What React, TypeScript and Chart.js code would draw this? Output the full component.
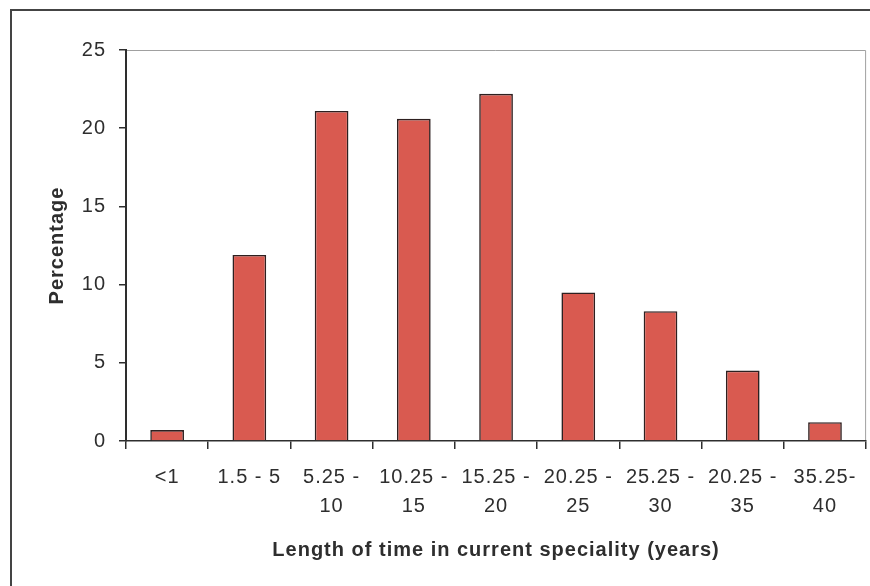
import React, { useEffect, useRef } from "react";
import { Chart, registerables } from "chart.js";

Chart.register(...registerables);

const categories: string[][] = [
  ["<1"],
  ["1.5 - 5"],
  ["5.25 -", "10"],
  ["10.25 -", "15"],
  ["15.25 -", "20"],
  ["20.25 -", "25"],
  ["25.25 -", "30"],
  ["20.25 -", "35"],
  ["35.25-", "40"],
];
const percentages: number[] = [0.7, 11.9, 21.1, 20.6, 22.2, 9.5, 8.3, 4.5, 1.2];
const yMin = 0;
const yMax = 25;
const yStep = 5;
const xTitle = "Length of time in current speciality (years)";
const yTitle = "Percentage";

const FONT = "'Liberation Sans', Arial, Helvetica, sans-serif";
const TEXT = "#2e2e2e";
const SPACING = "1px";

const framePlugin = {
  id: "frame",
  beforeLayout(chart: any) {
    chart.ctx.letterSpacing = SPACING;
  },
  beforeDraw(chart: any) {
    const ctx = chart.ctx;
    ctx.letterSpacing = SPACING;
    ctx.save();
    ctx.fillStyle = "#ffffff";
    ctx.fillRect(0, 0, chart.width, chart.height);
    ctx.strokeStyle = "#444444";
    ctx.lineWidth = 2;
    ctx.beginPath();
    ctx.moveTo(11, chart.height);
    ctx.lineTo(11, 10);
    ctx.lineTo(chart.width, 10);
    ctx.stroke();
    const { left, right, top, bottom } = chart.chartArea;
    ctx.strokeStyle = "#a0a0a0";
    ctx.lineWidth = 1;
    ctx.beginPath();
    ctx.moveTo(left, top + 0.5);
    ctx.lineTo(right - 0.5, top + 0.5);
    ctx.lineTo(right - 0.5, bottom);
    ctx.stroke();
    ctx.restore();
  },
};

export default function App() {
  const ref = useRef<HTMLCanvasElement | null>(null);

  useEffect(() => {
    if (!ref.current) return;
    const chart = new Chart(ref.current, {
      type: "bar",
      data: {
        labels: categories,
        datasets: [
          {
            data: percentages,
            backgroundColor: "#D95A50",
            borderColor: "#2e2020",
            borderWidth: 1.6,
            barPercentage: 0.41,
            categoryPercentage: 1.0,
          },
        ],
      },
      options: {
        animation: false,
        responsive: false,
        devicePixelRatio: 1,
        layout: { padding: { top: 50, right: 3, left: 0, bottom: 0 } },
        plugins: {
          legend: { display: false },
          tooltip: { enabled: false },
        },
        scales: {
          x: {
            afterFit(scale: any) {
              scale.height = 145;
            },
            grid: {
              offset: true,
              drawOnChartArea: false,
              drawTicks: true,
              tickLength: 8,
              color: TEXT,
              lineWidth: 1.5,
            },
            border: { color: TEXT, width: 1.5 },
            ticks: {
              color: TEXT,
              font: { family: FONT, size: 20, lineHeight: 1.45 },
              padding: 13.5,
              maxRotation: 0,
              minRotation: 0,
              autoSkip: false,
            },
            title: {
              display: true,
              text: xTitle,
              color: TEXT,
              font: { family: FONT, size: 20, weight: "bold", lineHeight: 1.2 },
              padding: { top: 0, bottom: 24 },
            },
          },
          y: {
            min: yMin,
            max: yMax,
            afterFit(scale: any) {
              scale.width = 126;
            },
            grid: {
              drawOnChartArea: false,
              drawTicks: true,
              tickLength: 7,
              color: TEXT,
              lineWidth: 1.5,
            },
            border: { color: TEXT, width: 2 },
            ticks: {
              stepSize: yStep,
              color: TEXT,
              font: { family: FONT, size: 20 },
              padding: 13,
            },
            title: {
              display: true,
              text: yTitle,
              color: TEXT,
              font: { family: FONT, size: 20, weight: "bold", lineHeight: 1.2 },
              padding: { top: 45, bottom: 0 },
            },
          },
        },
      },
      plugins: [framePlugin],
    });
    return () => chart.destroy();
  }, []);

  return (
    <div style={{ position: "fixed", left: 0, top: 0, width: 870, height: 586, background: "#fff" }}>
      <canvas ref={ref} width={870} height={586} style={{ display: "block" }} />
    </div>
  );
}
